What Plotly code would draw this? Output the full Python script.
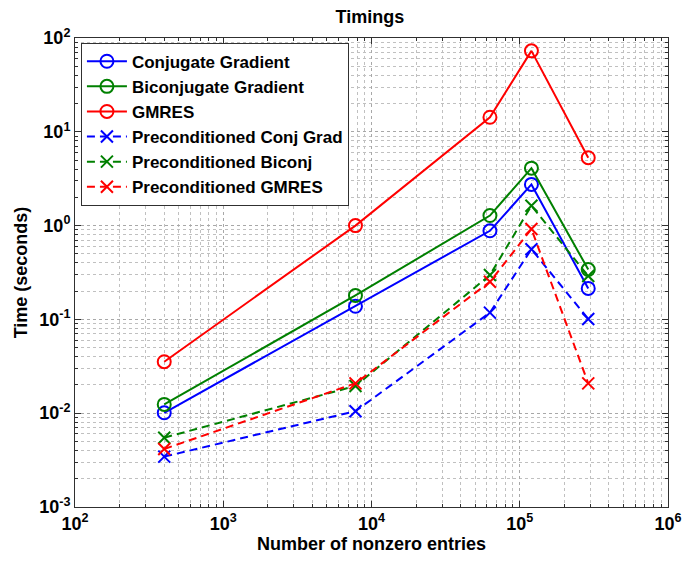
import plotly.graph_objects as go

nnz = [400, 7800, 63000, 120000, 290000]

cg = [0.0101, 0.138, 0.88, 2.75, 0.214]
bicg = [0.0124, 0.18, 1.28, 4.1, 0.34]
gmres = [0.0354, 1.0, 14.3, 73, 5.3]
pcg = [0.00344, 0.0105, 0.118, 0.56, 0.101]
pbicg = [0.00548, 0.0195, 0.297, 1.63, 0.29]
pgmres = [0.00415, 0.0208, 0.252, 0.92, 0.0208]

names = ["Conjugate Gradient", "Biconjugate Gradient", "GMRES",
         "Preconditioned Conj Grad", "Preconditioned Biconj", "Preconditioned GMRES"]
series = [cg, bicg, gmres, pcg, pbicg, pgmres]
colors = ["#0000ff", "#008000", "#ff0000", "#0000ff", "#008000", "#ff0000"]
dashed = [False, False, False, True, True, True]

x_tickvals = [1e2, 1e3, 1e4, 1e5, 1e6]
x_ticktext = ["10<sup>2</sup>", "10<sup>3</sup>", "10<sup>4</sup>", "10<sup>5</sup>", "10<sup>6</sup>"]
y_tickvals = [1e-3, 1e-2, 1e-1, 1e0, 1e1, 1e2]
y_ticktext = ["10<sup>-3</sup>", "10<sup>-2</sup>", "10<sup>-1</sup>", "10<sup>0</sup>",
              "10<sup>1</sup>", "10<sup>2</sup>"]

fig = go.Figure()
for name, ys, col, dsh in zip(names, series, colors, dashed):
    fig.add_trace(go.Scatter(
        x=nnz, y=ys, name=name, mode="lines+markers",
        line=dict(color=col, width=2, dash="8px,5px" if dsh else "solid"),
        marker=dict(symbol="x-thin-open" if dsh else "circle-open", size=12 if dsh else 13,
                    color=col, line=dict(color=col, width=2)),
    ))

FONT = "Liberation Sans"
axis_common = dict(
    type="log", showline=True, linecolor="#303030", automargin=False,
    linewidth=1, mirror="allticks", ticks="inside", ticklen=6, tickcolor="#303030",
    showgrid=True, gridcolor="#a8a8a8", griddash="dot", gridwidth=1, zeroline=False,
    tickfont=dict(family=FONT, size=18, color="black", weight="bold"),
    minor=dict(dtick="D1", showgrid=True, gridcolor="#c0c0c0", griddash="dot",
               ticks="inside", ticklen=3, tickcolor="#303030"),
)

fig.update_layout(
    width=683, height=563,
    margin=dict(l=75, r=15, t=38, b=56),
    paper_bgcolor="white", plot_bgcolor="white",
    font=dict(family=FONT, size=18, color="black", weight="bold"),
    title=dict(text="Timings", x=0.5415, xanchor="center", y=0.97, yanchor="middle",
               font=dict(family=FONT, size=18, weight="bold")),
    xaxis=dict(axis_common, range=[2, 6.0005], tickmode="array",
               tickvals=x_tickvals, ticktext=x_ticktext,
               title=dict(text="Number of nonzero entries", standoff=2,
                          font=dict(family=FONT, size=18, weight="bold"))),
    yaxis=dict(axis_common, range=[-3.0005, 2.0005], tickmode="array",
               tickvals=y_tickvals, ticktext=y_ticktext,
               title=dict(text="Time (seconds)", standoff=6,
                          font=dict(family=FONT, size=18, weight="bold"))),
    legend=dict(x=0.01, y=0.99, xanchor="left", yanchor="top", bgcolor="white",
                bordercolor="#303030", borderwidth=1, tracegroupgap=0,
                font=dict(family=FONT, size=17, weight="bold"),
                itemwidth=40),
    showlegend=True,
)

fig.write_html("out.html")
